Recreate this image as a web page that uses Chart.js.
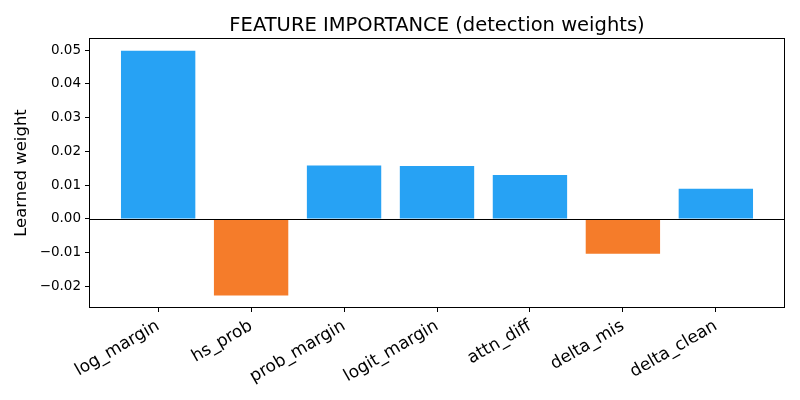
<!DOCTYPE html>
<html>
<head>
<meta charset="utf-8">
<script src="https://cdn.jsdelivr.net/npm/chart.js@4.4.1/dist/chart.umd.min.js"></script>
<style>
    html, body { margin: 0; padding: 0; background: #ffffff; }
    #wrap { width: 800px; height: 400px; }
</style>
</head>
<body>
<div id="wrap"><canvas id="chart"></canvas></div>
<script>
// Feature names and their learned weights
const FEATURES = ['log_margin', 'hs_prob', 'prob_margin', 'logit_margin', 'attn_diff', 'delta_mis', 'delta_clean'];
const WEIGHTS = [0.0498, -0.0227, 0.0158, 0.0157, 0.0130, -0.0103, 0.0089];
const Y_TICKS = [-0.02, -0.01, 0.00, 0.01, 0.02, 0.03, 0.04, 0.05];

const COLORS = {
    positive: '#27a2f4',
    negative: '#f57c2a',
    axis: '#000000'
};
const FONT = 'DejaVu Sans';

// Zero line and the box around the plot, like matplotlib's axes frame
const framePlugin = {
    id: 'frame',
    afterDatasetsDraw(chart) {
        const { ctx, chartArea, scales } = chart;
        const y0 = Math.round(scales.y.getPixelForValue(0)) + 0.5;
        ctx.save();
        ctx.strokeStyle = COLORS.axis;
        ctx.lineWidth = 1;
        ctx.beginPath();
        ctx.moveTo(chartArea.left, y0);
        ctx.lineTo(chartArea.right, y0);
        ctx.stroke();
        ctx.strokeRect(chartArea.left + 0.5, chartArea.top + 0.5,
            chartArea.right - chartArea.left - 1, chartArea.bottom - chartArea.top - 1);
        ctx.restore();
    }
};

function fmtTick(v) {
    return v.toFixed(2).replace('-', '\u2212');
}

new Chart(document.getElementById('chart'), {
    type: 'bar',
    data: {
        datasets: [{
            data: WEIGHTS.map((w, i) => ({ x: i, y: w })),
            backgroundColor: WEIGHTS.map(w => w >= 0 ? COLORS.positive : COLORS.negative),
            borderWidth: 0,
            barPercentage: 0.8,
            categoryPercentage: 1.0
        }]
    },
    options: {
        responsive: true,
        maintainAspectRatio: false,
        animation: false,
        layout: { padding: { top: 0, right: 15, bottom: 0, left: 0 } },
        plugins: {
            legend: { display: false },
            tooltip: { enabled: false },
            title: {
                display: true,
                fullSize: false,
                text: 'FEATURE IMPORTANCE (detection weights)',
                color: '#000000',
                font: { family: FONT, size: 19.5, weight: 'normal', lineHeight: 1.2 },
                padding: { top: 14, bottom: 0.6 }
            }
        },
        scales: {
            x: {
                type: 'linear',
                min: -0.744,
                max: FEATURES.length - 1 + 0.744,
                offset: false,
                afterBuildTicks(scale) {
                    scale.ticks = FEATURES.map((f, i) => ({ value: i }));
                },
                afterFit(scale) { scale.height = 92; },
                grid: { offset: false, drawOnChartArea: false, drawTicks: true, tickLength: 4, color: COLORS.axis },
                border: { display: false },
                ticks: {
                    autoSkip: false,
                    maxRotation: 30,
                    minRotation: 30,
                    padding: 4,
                    color: '#000000',
                    font: { family: FONT, size: 17 },
                    callback: (v) => FEATURES[v]
                }
            },
            y: {
                min: -0.0264,
                max: 0.0536,
                afterBuildTicks(scale) {
                    scale.ticks = Y_TICKS.map(v => ({ value: v }));
                },
                afterFit(scale) { scale.width = 89; },
                grid: { drawOnChartArea: false, drawTicks: true, tickLength: 4, color: COLORS.axis },
                border: { display: false },
                title: {
                    display: true,
                    text: 'Learned weight',
                    color: '#000000',
                    font: { family: FONT, size: 16.5 },
                    padding: { top: 12, bottom: 0 }
                },
                ticks: {
                    padding: 4,
                    color: '#000000',
                    font: { family: FONT, size: 13.5 },
                    callback: (v) => fmtTick(v)
                }
            }
        }
    },
    plugins: [framePlugin]
});
</script>
</body>
</html>
